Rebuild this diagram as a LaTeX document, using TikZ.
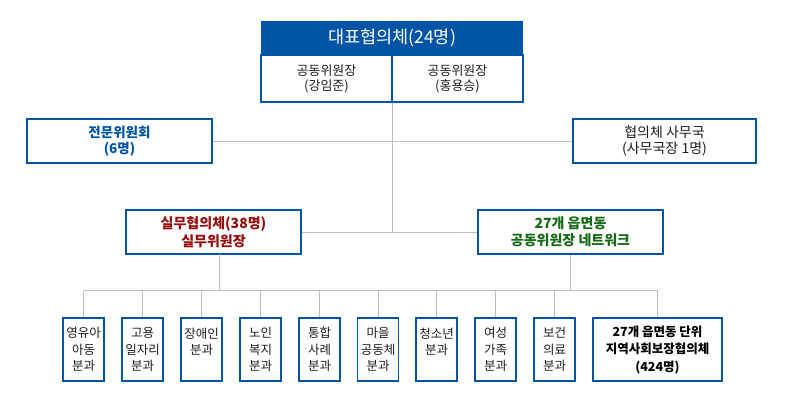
\documentclass[tikz,border=0pt]{standalone}
\usepackage{fontspec}
\setmainfont{Noto Sans CJK KR}
\usetikzlibrary{positioning,calc}
\definecolor{orgBlue}{RGB}{0,84,166}
\definecolor{orgRed}{RGB}{150,12,12}
\definecolor{orgGreen}{RGB}{22,105,22}
\definecolor{orgGray}{RGB}{190,190,190}
\definecolor{orgText}{RGB}{30,30,30}
\tikzset{
    base/.style={align=center, inner sep=0pt, text=orgText},
    box/.style={base, rectangle, draw=orgBlue, line width=1.4pt, fill=white},
    head/.style={base, rectangle, fill=orgBlue, text=white,
                 font=\fontsize{17.5}{19}\selectfont, minimum width=262pt, minimum height=34pt},
    cell/.style={box, font=\fontsize{13}{15}\selectfont, minimum width=131pt, minimum height=47pt},
    side/.style={box, font=\fontsize{14}{16}\selectfont, minimum height=44pt},
    team/.style={box, font=\bfseries\fontsize{14}{17.5}\selectfont, minimum height=44pt},
    group/.style={box, font=\fontsize{12.5}{16.5}\selectfont, minimum width=41pt, minimum height=63pt},
    link/.style={draw=orgGray, line width=1pt}
}
\begin{document}
\begin{tikzpicture}[x=1pt, y=-1pt]
  \useasboundingbox (0,0) rectangle (786,418);

  % Top council
  \node[head] (rep) at (392,38) {대표협의체(24명)};
  \node[cell] (co1) at (326.5,78.5) {공동위원장\\(강임준)};
  \node[cell] (co2) at (457.5,78.5) {공동위원장\\(홍용승)};

  % Side boxes
  \node[side, minimum width=185pt, text=orgBlue, font=\bfseries\fontsize{13.5}{16}\selectfont] (expert) at (119.5,141) {전문위원회\\(6명)};
  \node[side, minimum width=183pt] (office) at (664.5,141) {협의체 사무국\\(사무국장 1명)};

  % Working level
  \node[team, minimum width=175pt, text=orgRed] (work) at (213.5,232) {실무협의체(38명)\\실무위원장};
  \node[team, minimum width=185pt, text=orgGreen] (net) at (570.5,232) {27개 읍면동\\공동위원장 네트워크};

  % Sub-committees
  \foreach \i/\x/\txt in {1/83.5/{영유아\\아동\\분과}, 2/142.5/{고용\\일자리\\분과},
                          3/201.5/{장애인\\분과\\~}, 4/260.5/{노인\\복지\\분과},
                          5/319.5/{통합\\사례\\분과}, 6/378/{마을\\공동체\\분과},
                          7/436.5/{청소년\\분과\\~}, 8/495.5/{여성\\가족\\분과},
                          9/554.5/{보건\\의료\\분과}}
    \node[group] (g\i) at (\x,349.5) {\txt};
  \node[box, font=\bfseries\fontsize{12.5}{17.5}\selectfont, text=black,
        minimum width=129pt, minimum height=63pt] (local) at (657.5,349.5)
        {27개 읍면동 단위\\지역사회보장협의체\\(424명)};

  % Connectors
  \coordinate (hub) at (co1.south east |- work.east);
  \coordinate (bus) at (0,290.5);
  \coordinate (workdrop) at (219,254);
  \draw[link] (co1.south east) -- (hub);
  \draw[link] (expert) -- (office);
  \draw[link] (work) -- (net);
  \draw[link] (g1.north |- bus) -- (local.north |- bus);
  \draw[link] (workdrop) -- (workdrop |- bus);
  \draw[link] (net.south) -- (net.south |- bus);
  \foreach \i in {1,...,9}
    \draw[link] (g\i.north) -- (g\i.north |- bus);
  \draw[link] (local.north) -- (local.north |- bus);
\end{tikzpicture}
\end{document}
